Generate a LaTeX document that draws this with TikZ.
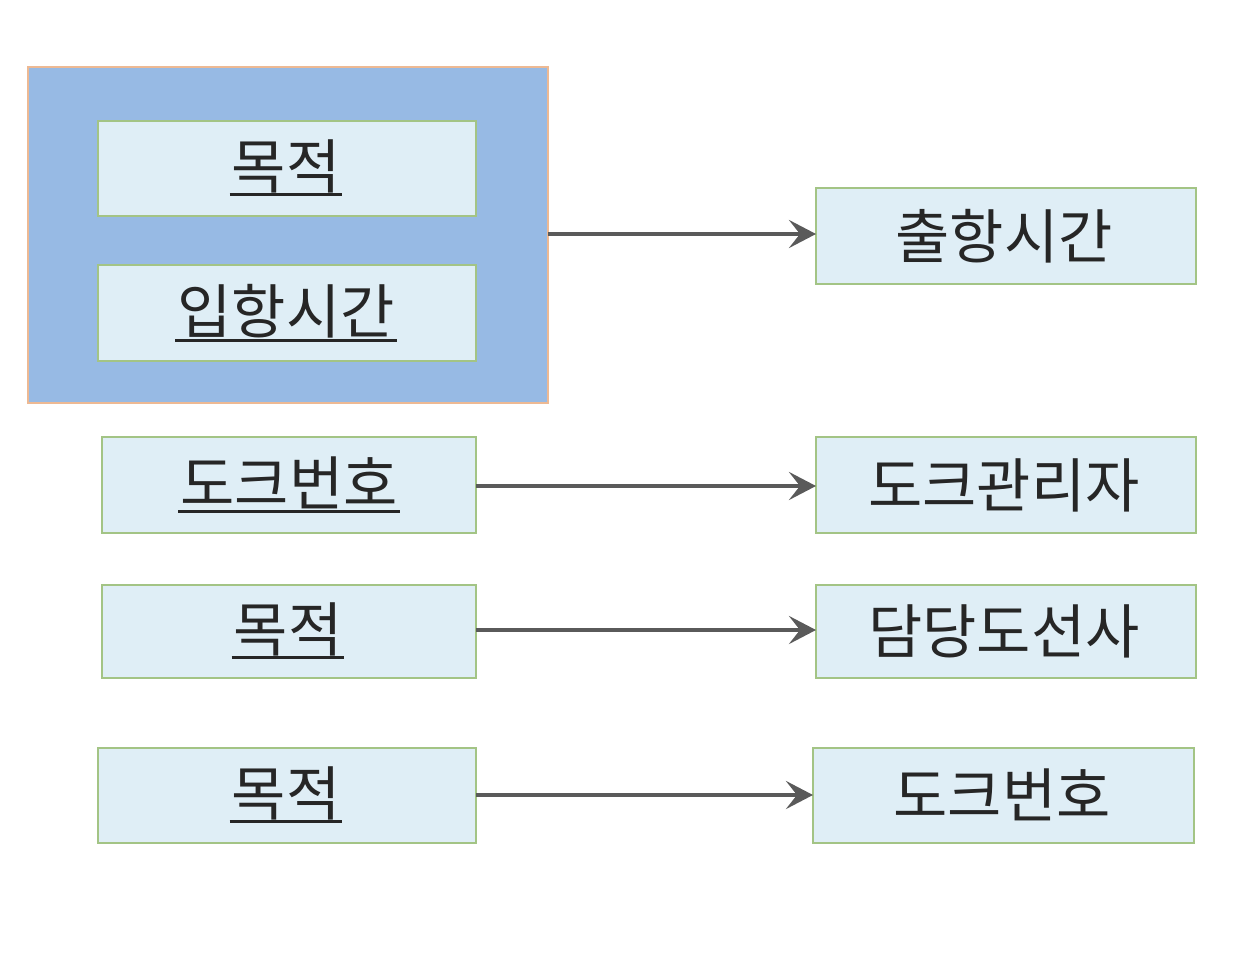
\documentclass[tikz,border=0pt]{standalone}
\usepackage{fontspec}
\newfontfamily\kr{Noto Sans CJK KR}
\usetikzlibrary{arrows.meta}
\definecolor{outerfill}{HTML}{97BAE4}
\definecolor{outerdraw}{HTML}{EDB993}
\definecolor{boxfill}{HTML}{DFEEF6}
\definecolor{boxdraw}{HTML}{A3C485}
\definecolor{arrowcol}{HTML}{5A5A5A}
\newcommand\myul[1]{\setbox0\hbox{#1}\rlap{\kern-2pt\vrule height -5pt depth 8pt width \dimexpr\wd0+4pt\relax}\box0}
\begin{document}
\begin{tikzpicture}[x=1pt,y=-1pt,
  entbox/.style={draw=boxdraw,fill=boxfill,line width=1.8pt},
  grpbox/.style={draw=outerdraw,fill=outerfill,line width=1.8pt},
  lbl/.style={font=\kr\fontsize{59}{66}\selectfont,text=black!85,inner sep=0pt},
  conn/.style={draw=arrowcol,line width=4pt,-{Stealth[length=27pt,width=28pt,inset=11pt]}}]
\useasboundingbox (0,0) rectangle (1256,966);
% outer group
\path[grpbox] (28,67) rectangle (548,403);
\coordinate (grpE) at (548,234);
% boxes
\path[entbox] (98,121) rectangle (476,216);
\node[lbl] (l1) at (286,168) {\myul{목적}};
\path[entbox] (98,265) rectangle (476,361);
\node[lbl] (l2) at (286,313) {\myul{입항시간}};
\path[entbox] (816,188) rectangle (1196,284);
\node[lbl] (r1) at (1004,236) {출항시간};
\coordinate (r1W) at (816,234);

\path[entbox] (102,437) rectangle (476,533);
\node[lbl] (l3) at (289,485) {\myul{도크번호}};
\coordinate (l3E) at (476,486);
\path[entbox] (816,437) rectangle (1196,533);
\node[lbl] (r2) at (1004,485) {도크관리자};
\coordinate (r2W) at (816,486);

\path[entbox] (102,585) rectangle (476,678);
\node[lbl] (l4) at (288,631) {\myul{목적}};
\coordinate (l4E) at (476,630);
\path[entbox] (816,585) rectangle (1196,678);
\node[lbl] (r3) at (1004,631) {담당도선사};
\coordinate (r3W) at (816,630);

\path[entbox] (98,748) rectangle (476,843);
\node[lbl] (l5) at (286,795) {\myul{목적}};
\coordinate (l5E) at (476,795);
\path[entbox] (813,748) rectangle (1194,843);
\node[lbl] (r4) at (1002,795) {도크번호};
\coordinate (r4W) at (813,795);

\draw[conn] (grpE) -- (r1W);
\draw[conn] (l3E) -- (r2W);
\draw[conn] (l4E) -- (r3W);
\draw[conn] (l5E) -- (r4W);
\end{tikzpicture}
\end{document}
